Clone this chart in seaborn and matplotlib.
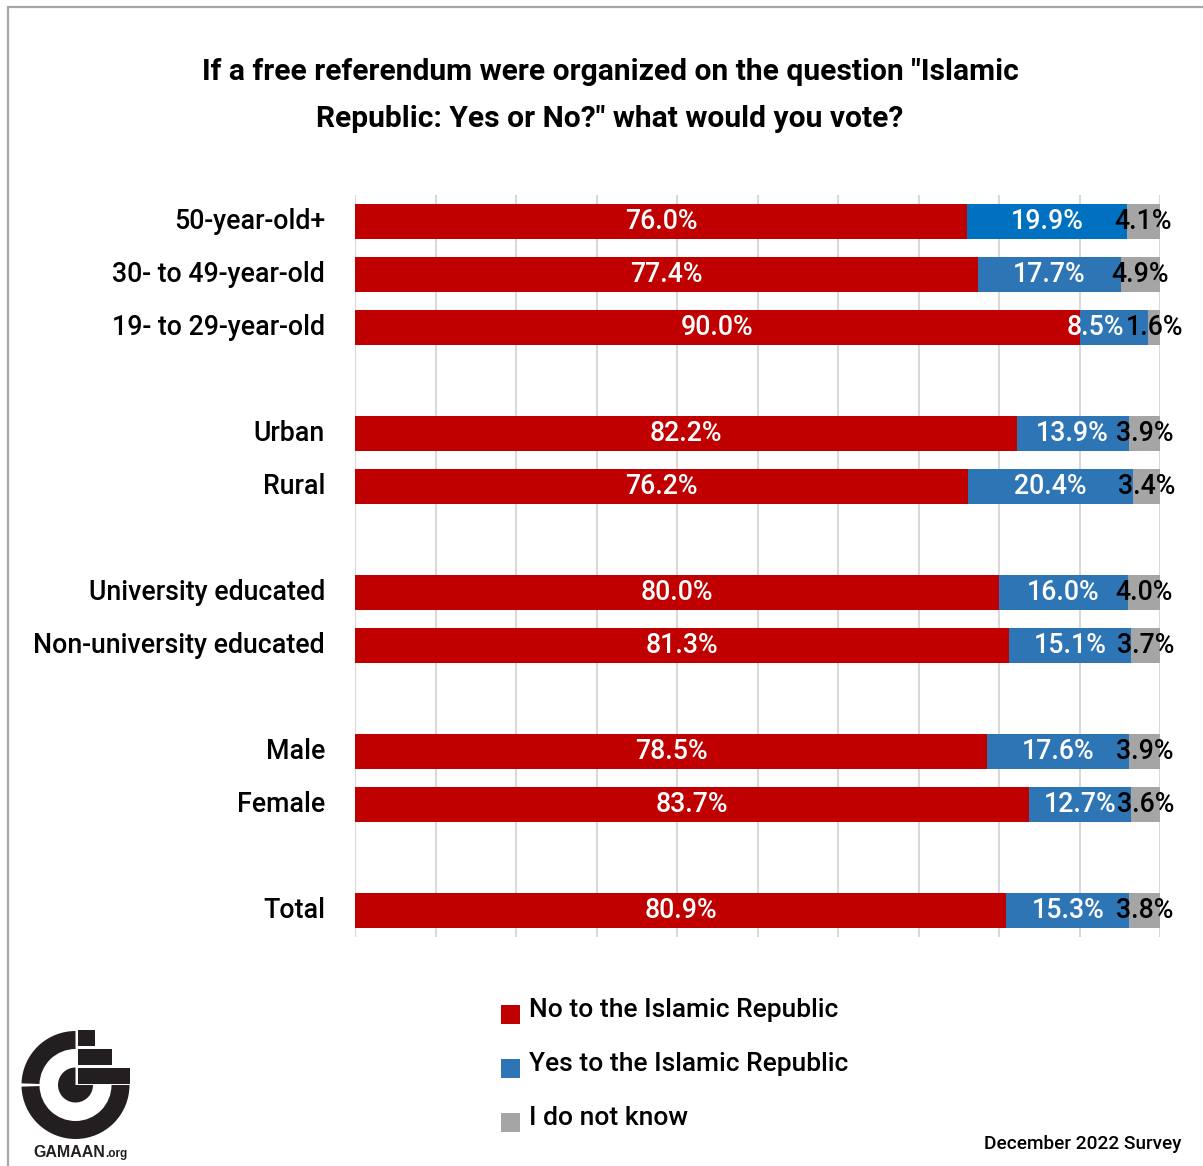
import numpy as np
import pandas as pd
import matplotlib
matplotlib.use("Agg")
import matplotlib.pyplot as plt
import seaborn as sns
from matplotlib.patches import Rectangle, Wedge

# Survey results (percent) by respondent group
groups = ["50-year-old+", "30- to 49-year-old", "19- to 29-year-old",
          "Urban", "Rural",
          "University educated", "Non-university educated",
          "Male", "Female",
          "Total"]
no_vals = [76.0, 77.4, 90.0, 82.2, 76.2, 80.0, 81.3, 78.5, 83.7, 80.9]
yes_vals = [19.9, 17.7, 8.5, 13.9, 20.4, 16.0, 15.1, 17.6, 12.7, 15.3]
dk_vals = [4.1, 4.9, 1.6, 3.9, 3.4, 4.0, 3.7, 3.9, 3.6, 3.8]
series_names = ["No to the Islamic Republic", "Yes to the Islamic Republic", "I do not know"]

title_lines = ['If a free referendum were organized on the question "Islamic',
               'Republic: Yes or No?" what would you vote?']
survey_note = "December 2022 Survey"

RED, BLUE, BLUE_HI, GRAY = "#C00000", "#2E75B6", "#0070C0", "#A5A5A5"

sns.set_theme(style="white")
plt.rcParams["font.family"] = ["Roboto", "DejaVu Sans"]

W, H = 1203, 1166
fig = plt.figure(figsize=(W / 100, H / 100), dpi=100)
fig.patch.set_facecolor("white")

# blank rows separate the groups
order = (groups[0:3] + [" "] + groups[3:5] + ["  "] + groups[5:7] + ["   "]
         + groups[7:9] + ["    "] + groups[9:])

df = pd.DataFrame({"group": groups, "no": no_vals, "yes": yes_vals, "dk": dk_vals})
df["no_yes"] = df["no"] + df["yes"]
df["total"] = df["no_yes"] + df["dk"]

ax_l, ax_r, ax_t, ax_b = 355, 1160, 195, 937
ax = fig.add_axes([ax_l / W, 1 - ax_b / H, (ax_r - ax_l) / W, (ax_b - ax_t) / H])
ax.set_facecolor("none")

bar_w = 0.66
common = dict(order=order, orient="h", width=bar_w, errorbar=None, linewidth=0,
              saturation=1, ax=ax)
sns.barplot(data=df, x="total", y="group", color=GRAY, **common)
yes_palette = {g: (BLUE_HI if i == 0 else BLUE) for i, g in enumerate(groups)}
sns.barplot(data=df, x="no_yes", y="group", hue="group", hue_order=groups,
            palette=yes_palette, dodge=False, legend=False, **common)
sns.barplot(data=df, x="no", y="group", color=RED, **common)

ax.set_xlim(0, 100)
ax.set_ylim(len(order) - 0.5, -0.5)
ax.set_xticks(np.arange(0, 101, 10))
ax.set_xticklabels([])
ax.xaxis.grid(True, color="#D9D9D9", linewidth=1.5)
ax.yaxis.grid(False)
ax.set_axisbelow(True)
for s in ax.spines.values():
    s.set_visible(False)
ax.set_xlabel("")
ax.set_ylabel("")
ax.tick_params(axis="both", length=0)
ax.tick_params(axis="y", pad=21.6, labelsize=19.3, labelcolor="black")
for lab in ax.get_yticklabels():
    lab.set_fontweight("medium")
    lab.set_verticalalignment("center")

# value labels centred on each segment
lab_fs = 19.3
for _, row in df.iterrows():
    y = order.index(row["group"])
    kw = dict(va="center", fontsize=lab_fs, fontweight="medium")
    ax.text(row["no"] / 2, y, f"{row['no']:.1f}%", ha="center", color="white", **kw)
    if row["yes"] < 10:
        # narrow segment: keep the label clear of the neighbouring one
        ax.text(row["no_yes"] - 3, y, f"{row['yes']:.1f}%", ha="right", color="white", **kw)
    else:
        ax.text(row["no"] + row["yes"] / 2, y, f"{row['yes']:.1f}%", ha="center",
                color="white", **kw)
    ax.text(row["no_yes"] + row["dk"] / 2, y, f"{row['dk']:.1f}%", ha="center",
            color="black", **kw)

# overlay in pixel units for frame, title, legend and footer
ov = fig.add_axes([0, 0, 1, 1], zorder=10)
ov.set_xlim(0, W)
ov.set_ylim(0, H)
ov.axis("off")
ov.patch.set_alpha(0)

def Y(y):
    return H - y

ov.plot([8, 8, W], [Y(H), Y(7), Y(7)], color="#A6A6A6", linewidth=1.6,
        solid_joinstyle="miter")

for i, line in enumerate(title_lines):
    ov.text(610, Y(80 + 47 * i), line, ha="center", va="baseline", fontsize=21.6,
            fontweight="bold", color="black")

leg_colors = [RED, BLUE, GRAY]
for i, (name, c) in enumerate(zip(series_names, leg_colors)):
    yc = 1014 + 54 * i
    ov.add_patch(Rectangle((501, Y(yc + 9.5)), 19, 19, facecolor=c, edgecolor="none"))
    ov.text(529, Y(yc + 3), name, ha="left", va="baseline", fontsize=19,
            fontweight="medium", color="black")

ov.text(1181, Y(1149), survey_note, ha="right", va="baseline", fontsize=13.7,
        fontweight="medium", color="black")

# GAMAAN logo
ink = "#231F20"
cx, cy = 75.5, Y(1085)
ov.add_patch(Wedge((cx, cy), 54, 90, 178.3, width=18, facecolor=ink, edgecolor="none"))
ov.add_patch(Wedge((cx, cy), 54, 181.7, 360, width=18, facecolor=ink, edgecolor="none"))
ov.add_patch(Wedge((cx, cy), 17.5, 90, 360, facecolor=ink, edgecolor="none"))
for x0, x1, y0, y1 in [(78, 95, 1030, 1046), (78, 112, 1048.5, 1065), (78, 130, 1067.5, 1084)]:
    ov.add_patch(Rectangle((x0, Y(y1)), x1 - x0, y1 - y0, facecolor=ink, edgecolor="none"))
ov.text(33, Y(1157), "GAMAAN", ha="left", va="baseline", fontsize=11.5,
        fontweight="bold", family=["Liberation Sans", "DejaVu Sans"], color=ink)
ov.text(105, Y(1157), ".org", ha="left", va="baseline", fontsize=8.5,
        fontweight="bold", family=["Liberation Sans", "DejaVu Sans"], color=ink)

fig.savefig("out.png", dpi=100, facecolor="white")
